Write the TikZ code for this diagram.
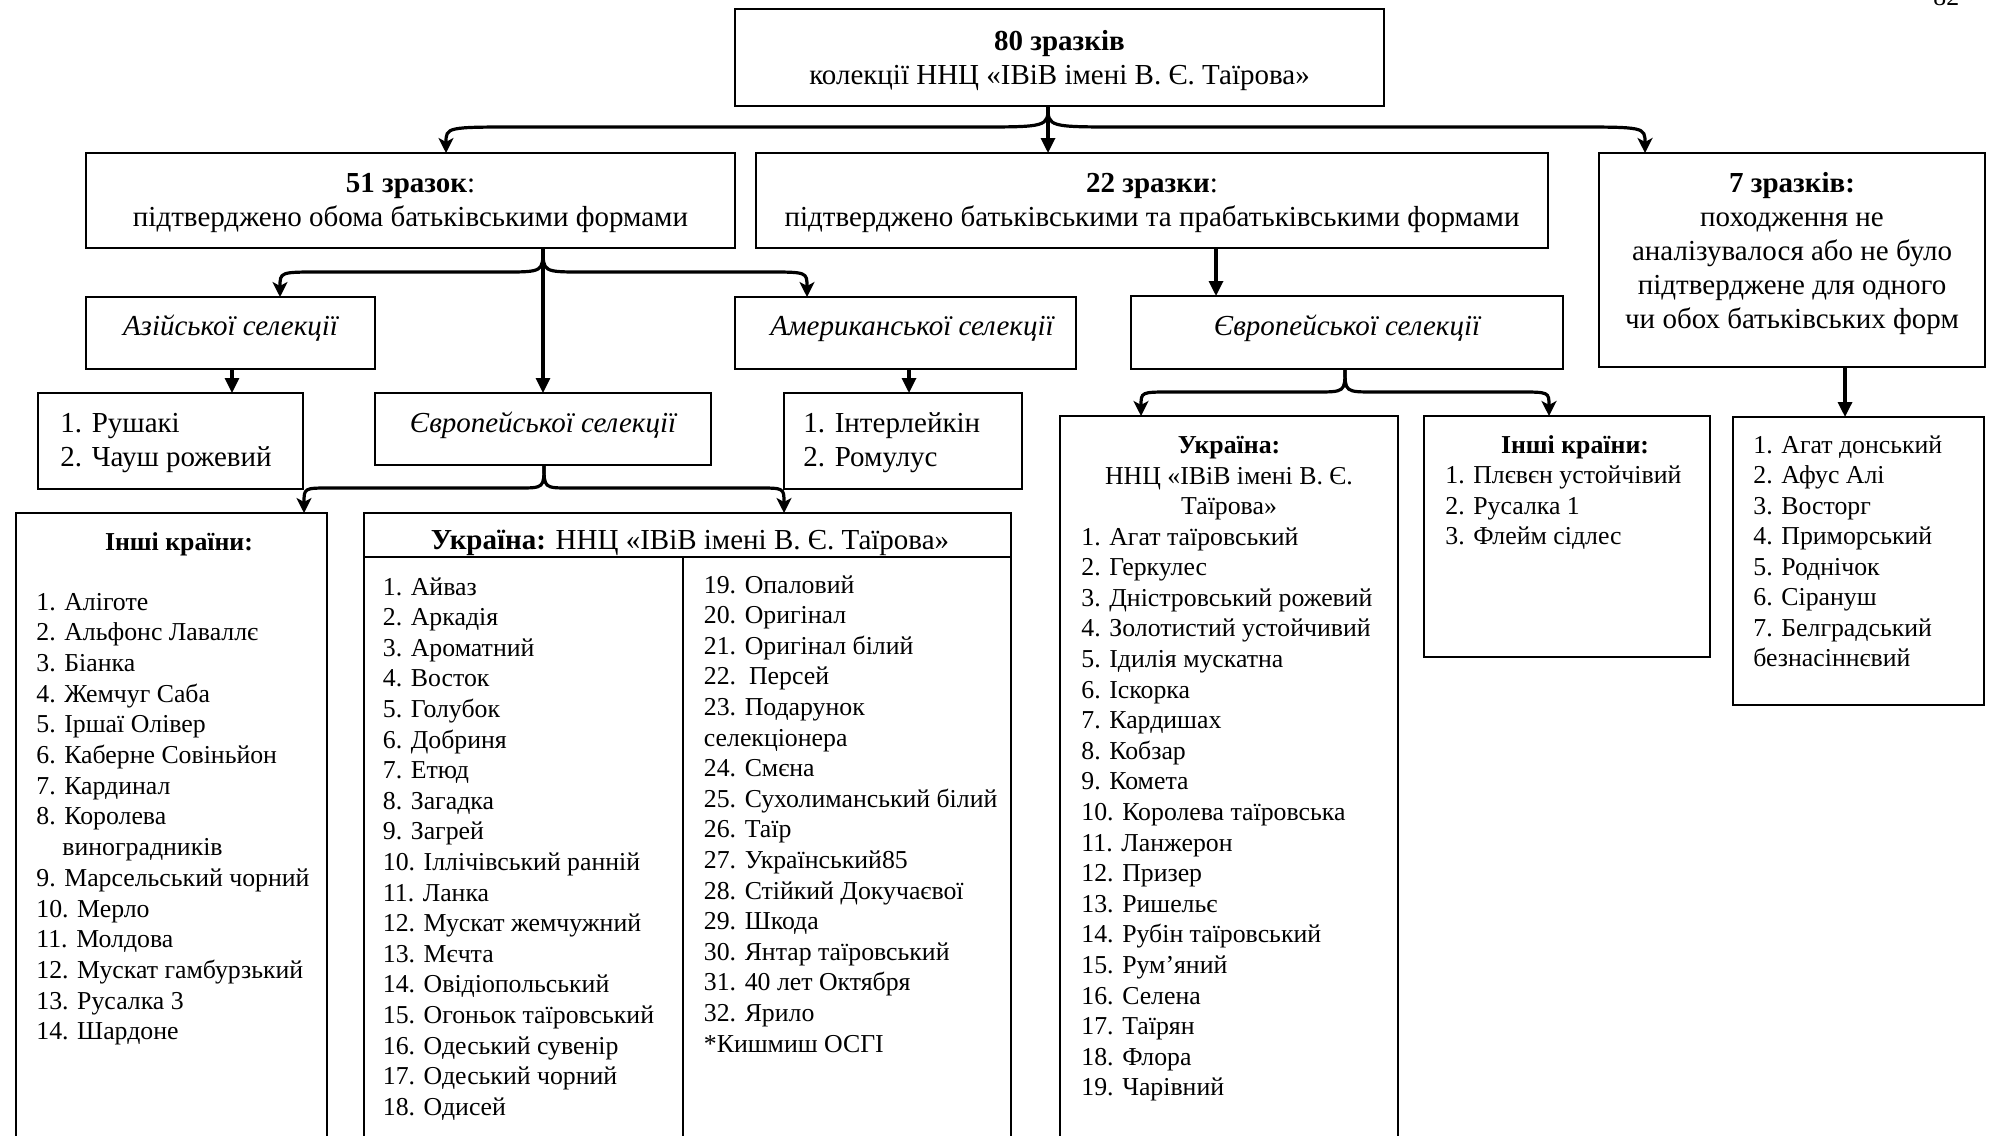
\documentclass[tikz,border=0pt]{standalone}
\usepackage{fontspec}
\setmainfont{Liberation Serif}
\usetikzlibrary{arrows.meta,calc,fit}
\begin{document}
\begin{tikzpicture}[x=0.5pt,y=-0.5pt,
  bx/.style={draw, line width=0.75pt, inner sep=0pt, outer sep=0pt},
  conn/.style={line width=1.6pt, -{Triangle[length=7.5pt,width=7pt]}},
  curv/.style={line width=1.6pt, -{Stealth[length=7.5pt,width=7.5pt,inset=2pt]}},
  big/.style={font=\fontsize{14.5}{17}\selectfont, inner sep=0pt, anchor=base},
  bigl/.style={font=\fontsize{14.5}{17}\selectfont, inner sep=0pt, anchor=base west},
  lstc/.style={font=\fontsize{12.9}{15.35}\selectfont, inner sep=0pt, anchor=base},
  lst/.style={font=\fontsize{12.9}{15.35}\selectfont, inner sep=0pt, anchor=base west}]
\useasboundingbox (0,0) rectangle (1989,1135);
\fill[white] (0,0) rectangle (1989,1135);
\clip (0,0) rectangle (1989,1135);

% boxes
\node[bx, fit={(735,9) (1384,106)}] (T) {};
\node[bx, fit={(86,153) (735,248)}] (A) {};
\node[bx, fit={(756,153) (1548,248)}] (B) {};
\node[bx, fit={(1599,153) (1985,367)}] (C) {};
\node[bx, fit={(86,297) (375,369)}] (AS) {};
\node[bx, fit={(735,297) (1076,369)}] (AM) {};
\node[bx, fit={(1131,296) (1563,369)}] (ER) {};
\node[bx, fit={(38,393) (303,489)}] (RU) {};
\node[bx, fit={(375,393) (711,465)}] (EL) {};
\node[bx, fit={(784,393) (1022,489)}] (IN) {};
\node[bx, fit={(16,513) (327,1200)}] (OL) {};
\node[bx, fit={(364,513) (1011,1200)}] (UL) {};
\node[bx, fit={(1060,416) (1398,1200)}] (UR) {};
\node[bx, fit={(1424,416) (1710,657)}] (OR) {};
\node[bx, fit={(1733,417) (1984,705)}] (SV) {};
\draw[line width=0.75pt] (UL.west |- 0,557) -- (UL.east |- 0,557);
\draw[line width=0.75pt] (683,557) -- (UL.south -| 683,0);

% connectors
\draw[conn] (T.south -| 1048,0) -- (B.north -| 1048,0);
\draw[curv] (T.south -| 1048,0) .. controls (1048,127) .. (973,127) -- (521,127) .. controls (446,127) .. (A.north -| 446,0);
\draw[curv] (T.south -| 1048,0) .. controls (1048,127) .. (1123,127) -- (1570,127) .. controls (1645,127) .. (C.north -| 1645,0);
\draw[conn] (A.south -| 543,0) -- (EL.north -| 543,0);
\draw[curv] (A.south -| 543,0) .. controls (543,272) .. (503,272) -- (320,272) .. controls (280,272) .. (AS.north -| 280,0);
\draw[curv] (A.south -| 543,0) .. controls (543,272) .. (583,272) -- (767,272) .. controls (807,272) .. (AM.north -| 807,0);
\draw[conn] (AS.south -| 232,0) -- (RU.north -| 232,0);
\draw[conn] (AM.south -| 909,0) -- (IN.north -| 909,0);
\draw[curv] (EL.south -| 544,0) .. controls (544,488) .. (518,488) -- (330,488) .. controls (304,488) .. (OL.north -| 304,0);
\draw[curv] (EL.south -| 544,0) .. controls (544,488) .. (570,488) -- (758,488) .. controls (784,488) .. (UL.north -| 784,0);
\draw[conn] (B.south -| 1216,0) -- (ER.north -| 1216,0);
\draw[curv] (ER.south -| 1345,0) .. controls (1345,392) .. (1315,392) -- (1171,392) .. controls (1141,392) .. (UR.north -| 1141,0);
\draw[curv] (ER.south -| 1345,0) .. controls (1345,392) .. (1375,392) -- (1519,392) .. controls (1549,392) .. (OR.north -| 1549,0);
\draw[conn] (C.south -| 1845,0) -- (SV.north -| 1845,0);

% page number
\node[lst] (pg) at (1933,5) {82};

% texts
\node[big] (t1) at (1059.5,50) {\textbf{80 зразків}};
\node[big] (t2) at (1059.5,84) {колекції ННЦ «ІВіВ імені В. Є. Таїрова»};
\node[big] (a1) at (410.5,192) {\textbf{51 зразок}:};
\node[big] (a2) at (410.5,226) {підтверджено обома батьківськими формами};
\node[big] (b1) at (1152,192) {\textbf{22 зразки}:};
\node[big] (b2) at (1152,226) {підтверджено батьківськими та прабатьківськими формами};
\node[big] (c1) at (1792,192) {\textbf{7 зразків:}};
\node[big] (c2) at (1792,226) {походження не};
\node[big] (c3) at (1792,260) {аналізувалося або не було};
\node[big] (c4) at (1792,294) {підтверджене для одного};
\node[big] (c5) at (1792,328) {чи обох батьківських форм};

\node[big] (as1) at (230.5,335) {\itshape Азійської селекції};
\node[big] (am1) at (912,335) {\itshape Американської селекції};
\node[big] (er1) at (1347,335) {\itshape Європейської селекції};
\node[big] (el1) at (543,432) {\itshape Європейської селекції};

\node[bigl] (ru1) at (60,432) {1. Рушакі};
\node[bigl] (ru2) at (60,466) {2. Чауш рожевий};
\node[bigl] (in1) at (803,432) {1. Інтерлейкін};
\node[bigl] (in2) at (803,466) {2. Ромулус};

% left: other countries
\node[lstc] (olh) at (179,550) {\textbf{Інші країни:}};
\foreach \x/\t [count=\i from 0] in {36/1. Аліготе, 36/2. Альфонс Лаваллє, 36/3. Біанка, 36/4. Жемчуг Саба, 36/5. Іршаї Олівер, 36/6. Каберне Совіньйон, 36/7. Кардинал, 36/8. Королева, 62/виноградників, 36/9. Марсельський чорний, 36/10. Мерло, 36/11. Молдова, 36/12. Мускат гамбурзький, 36/13. Русалка 3, 36/14. Шардоне}
  \node[lst] (ol\i) at (\x,{610+30.7*\i}) {\t};

% left: Ukraine
\node[big] (ulh) at (690,549) {\textbf{Україна:} ННЦ «ІВіВ імені В. Є. Таїрова»};
\foreach \t [count=\i from 0] in {1. Айваз, 2. Аркадія, 3. Ароматний, 4. Восток, 5. Голубок, 6. Добриня, 7. Етюд, 8. Загадка, 9. Загрей, 10. Іллічівський ранній, 11. Ланка, 12. Мускат жемчужний, 13. Мєчта, 14. Овідіопольський, 15. Огоньок таїровський, 16. Одеський сувенір, 17. Одеський чорний, 18. Одисей}
  \node[lst] (ula\i) at (382.5,{595+30.6*\i}) {\t};
\foreach \t [count=\i from 0] in {19. Опаловий, 20. Оригінал, 21. Оригінал білий, 22.\ \ Персей, 23. Подарунок, селекціонера, 24. Смєна, 25. Сухолиманський білий, 26. Таїр, 27. Український85, 28. Стійкий Докучаєвої, 29. Шкода, 30. Янтар таїровський, 31. 40 лет Октября, 32. Ярило, *Кишмиш ОСГІ}
  \node[lst] (ulb\i) at (703.5,{593+30.6*\i}) {\t};

% right: Ukraine
\node[lstc] (urh1) at (1229,453) {\textbf{Україна:}};
\node[lstc] (urh2) at (1229,484) {ННЦ «ІВіВ імені В. Є.};
\node[lstc] (urh3) at (1229,514.5) {Таїрова»};
\foreach \t [count=\i from 0] in {1. Агат таїровський, 2. Геркулес, 3. Дністровський рожевий, 4. Золотистий устойчивий, 5. Ідилія мускатна, 6. Іскорка, 7. Кардишах, 8. Кобзар, 9. Комета, 10. Королева таїровська, 11. Ланжерон, 12. Призер, 13. Ришельє, 14. Рубін таїровський, 15. Рум’яний, 16. Селена, 17. Таїрян, 18. Флора, 19. Чарівний}
  \node[lst] (ur\i) at (1081,{545+30.6*\i}) {\t};

% right: other countries
\node[lstc] (orh) at (1575,453) {\textbf{Інші країни:}};
\foreach \t [count=\i from 0] in {1. Плєвєн устойчівий, 2. Русалка 1, 3. Флейм сідлес}
  \node[lst] (or\i) at (1445,{483.5+30.5*\i}) {\t};

% seven
\foreach \t [count=\i from 0] in {1. Агат донський, 2. Афус Алі, 3. Восторг, 4. Приморський, 5. Роднічок, 6. Сірануш, 7. Белградський, безнасіннєвий}
  \node[lst] (sv\i) at (1753,{453+30.5*\i}) {\t};
\end{tikzpicture}
\end{document}
